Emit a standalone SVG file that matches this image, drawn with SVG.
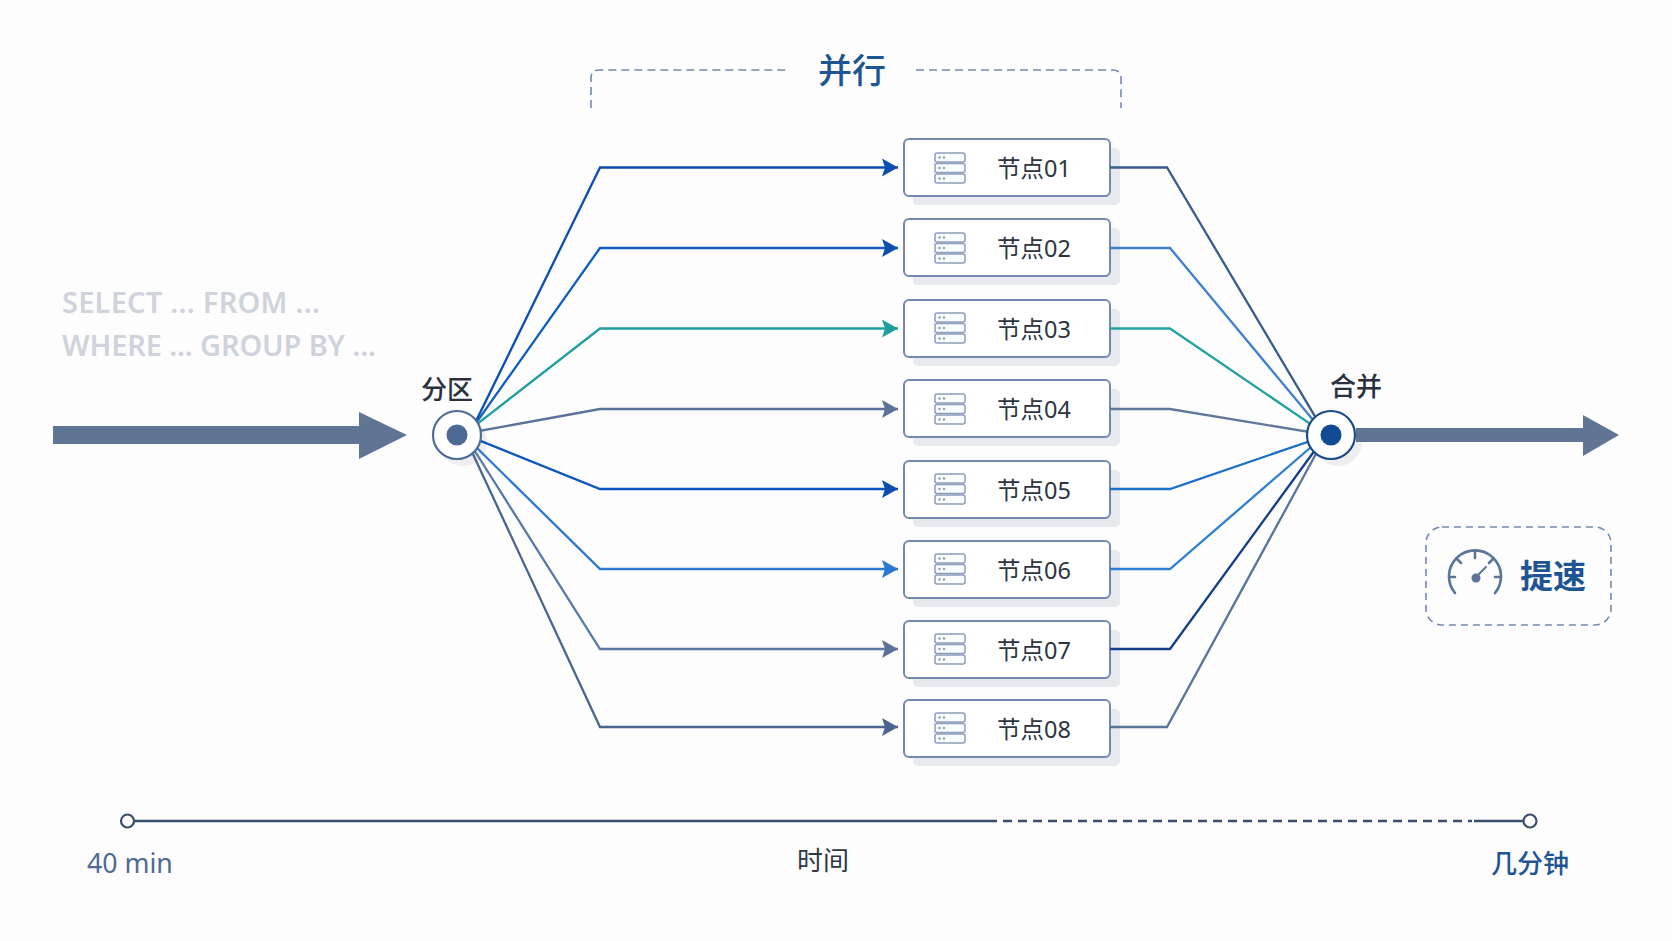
<svg xmlns="http://www.w3.org/2000/svg" width="1672" height="941" viewBox="0 0 1672 941">
<style>
text{font-family:"Noto Sans","Noto Sans CJK SC",sans-serif}
.cn{font-family:"Noto Sans CJK SC","Noto Sans",sans-serif}
.shadow{fill:#e6e9ee}
.box{fill:#fff;stroke:#7489ad;stroke-width:2}
.ic{fill:#fbfcfd;stroke:#8c9dba;stroke-width:1.5}
.dot{fill:#8c9dba}
.nl{font-size:23.5px;fill:#2c3440;text-anchor:start}
.ln{fill:none;stroke-width:2.3}
.sql{font-size:29px;fill:#cfd3db;font-weight:600}
.dash{fill:none;stroke:#7489ad;stroke-width:1.6;stroke-dasharray:8 5}
.hub{fill:#fff;stroke-width:2.2}
.hs{fill:#eeeef1}
.hl{font-size:26px;fill:#2a313c;font-weight:500;text-anchor:middle}
.fat{fill:#5f7593}
</style>
<defs>
<symbol id="srv" overflow="visible">
<rect class="ic" x="0" y="0" width="30" height="9" rx="2"/><circle class="dot" cx="4.5" cy="4.500" r="1.2"/><circle class="dot" cx="9" cy="4.500" r="1.2"/>
<rect class="ic" x="0" y="10.500" width="30" height="9" rx="2"/><circle class="dot" cx="4.5" cy="15" r="1.2"/><circle class="dot" cx="9" cy="15" r="1.2"/>
<rect class="ic" x="0" y="21" width="30" height="9" rx="2"/><circle class="dot" cx="4.5" cy="25.500" r="1.2"/><circle class="dot" cx="9" cy="25.500" r="1.2"/>
</symbol>
<marker id="a1" markerUnits="userSpaceOnUse" markerWidth="18" markerHeight="20" refX="16" refY="9" orient="auto"><path d="M0 0L16 9L0 18L3 9Z" fill="#0b4db0"/></marker>
<marker id="a3" markerUnits="userSpaceOnUse" markerWidth="18" markerHeight="20" refX="16" refY="9" orient="auto"><path d="M0 0L16 9L0 18L3 9Z" fill="#1f9f9f"/></marker>
<marker id="a4" markerUnits="userSpaceOnUse" markerWidth="18" markerHeight="20" refX="16" refY="9" orient="auto"><path d="M0 0L16 9L0 18L3 9Z" fill="#5b7299"/></marker>
<marker id="a6" markerUnits="userSpaceOnUse" markerWidth="18" markerHeight="20" refX="16" refY="9" orient="auto"><path d="M0 0L16 9L0 18L3 9Z" fill="#2a78d0"/></marker>
<marker id="a8" markerUnits="userSpaceOnUse" markerWidth="18" markerHeight="20" refX="16" refY="9" orient="auto"><path d="M0 0L16 9L0 18L3 9Z" fill="#4a6590"/></marker>
</defs>
<rect width="1672" height="941" fill="#fdfdfe"/>

<g id="sql">
<text class="sql" x="62" y="313" textLength="258" lengthAdjust="spacing">SELECT ... FROM ...</text>
<text class="sql" x="62" y="356" textLength="314" lengthAdjust="spacing">WHERE ... GROUP BY ...</text>
</g>

<g id="bracket">
<path class="dash" d="M591 108V78Q591 70 599 70H787M916 70H1113Q1121 70 1121 78V108"/>
<text class="cn" x="852" y="83" font-size="34" font-weight="500" fill="#1f5493" text-anchor="middle">并行</text>
</g>

<g id="n1"><rect class="shadow" x="913" y="148" width="207" height="57" rx="5"/><rect class="box" x="904" y="139" width="206" height="57" rx="5"/><use href="#srv" x="935" y="153"/><text class="nl" x="997" y="177">节点01</text></g>
<g id="n2"><rect class="shadow" x="913" y="228" width="207" height="57" rx="5"/><rect class="box" x="904" y="219" width="206" height="57" rx="5"/><use href="#srv" x="935" y="233"/><text class="nl" x="997" y="257">节点02</text></g>
<g id="n3"><rect class="shadow" x="913" y="309" width="207" height="57" rx="5"/><rect class="box" x="904" y="300" width="206" height="57" rx="5"/><use href="#srv" x="935" y="313"/><text class="nl" x="997" y="338">节点03</text></g>
<g id="n4"><rect class="shadow" x="913" y="389" width="207" height="57" rx="5"/><rect class="box" x="904" y="380" width="206" height="57" rx="5"/><use href="#srv" x="935" y="394"/><text class="nl" x="997" y="418">节点04</text></g>
<g id="n5"><rect class="shadow" x="913" y="470" width="207" height="57" rx="5"/><rect class="box" x="904" y="461" width="206" height="57" rx="5"/><use href="#srv" x="935" y="474"/><text class="nl" x="997" y="499">节点05</text></g>
<g id="n6"><rect class="shadow" x="913" y="550" width="207" height="57" rx="5"/><rect class="box" x="904" y="541" width="206" height="57" rx="5"/><use href="#srv" x="935" y="554"/><text class="nl" x="997" y="579">节点06</text></g>
<g id="n7"><rect class="shadow" x="913" y="630" width="207" height="57" rx="5"/><rect class="box" x="904" y="621" width="206" height="57" rx="5"/><use href="#srv" x="935" y="634"/><text class="nl" x="997" y="659">节点07</text></g>
<g id="n8"><rect class="shadow" x="913" y="709" width="207" height="57" rx="5"/><rect class="box" x="904" y="700" width="206" height="57" rx="5"/><use href="#srv" x="935" y="713"/><text class="nl" x="997" y="738">节点08</text></g>

<g id="hub-shadows">
<circle class="hs" cx="463" cy="442" r="24"/>
<circle class="hs" cx="1338" cy="442" r="24"/>
</g>

<g id="connectors">
<path class="ln" stroke="#0b4db0" marker-end="url(#a1)" d="M466 441.500L600 167.500H898"/>
<path class="ln" stroke="#0f5fc0" marker-end="url(#a1)" d="M465 438.600L600 248H898"/>
<path class="ln" stroke="#1f9f9f" marker-end="url(#a3)" d="M460 437.400L600 328.500H898"/>
<path class="ln" stroke="#5b7299" marker-end="url(#a4)" d="M457 435L600 409H898"/>
<path class="ln" stroke="#0b55c0" marker-end="url(#a1)" d="M465 434.600L600 489H898"/>
<path class="ln" stroke="#2a78d0" marker-end="url(#a6)" d="M462 433.300L600 569H898"/>
<path class="ln" stroke="#5a7aa5" marker-end="url(#a4)" d="M464 434L600 649H898"/>
<path class="ln" stroke="#4a6590" marker-end="url(#a8)" d="M465 437L600 727H898"/>
<path class="ln" stroke="#3b5b8f" d="M1110 167.500H1167L1326 434.800"/>
<path class="ln" stroke="#3f80cc" d="M1110 248H1170L1326 435.500"/>
<path class="ln" stroke="#24a3a0" d="M1110 328.500H1170L1326 434.600"/>
<path class="ln" stroke="#5f7798" d="M1110 409H1170L1330 435.400"/>
<path class="ln" stroke="#1b70c8" d="M1110 489H1170L1328 435"/>
<path class="ln" stroke="#2f80d0" d="M1110 569H1170L1325 435"/>
<path class="ln" stroke="#153f8a" d="M1110 649H1170L1326 435"/>
<path class="ln" stroke="#5a7598" d="M1110 727H1167L1326 435.500"/>
</g>

<g id="partition">
<circle class="hub" cx="457" cy="435" r="24" stroke="#4f6c96"/>
<circle cx="457" cy="435" r="10.500" fill="#4d6a94"/>
<text class="hl cn" x="447" y="399">分区</text>
</g>
<g id="merge">
<circle class="hub" cx="1331" cy="435" r="24" stroke="#1c4a8a"/>
<circle cx="1331" cy="435" r="10.500" fill="#124a94"/>
<text class="hl cn" x="1356" y="396">合并</text>
</g>

<g id="input-arrow"><path class="fat" d="M53 426H359V412L407 435L359 459V444H53Z"/></g>
<g id="output-arrow"><path class="fat" d="M1356 428H1583V415L1619 435L1583 456V442H1356Z"/></g>

<g id="speedup">
<rect x="1426" y="527" width="185" height="98" rx="16" fill="none" stroke="#7489ad" stroke-width="1.6" stroke-dasharray="7 5"/>
<g fill="none" stroke="#5a7598" stroke-width="2.600" stroke-linecap="round">
<path d="M1455 593A26 26 0 1 1 1495 593"/>
<path d="M1475 551V558M1456.500 558.500L1461 563M1493.500 558.500L1489 563M1449 577H1455M1501 577H1495"/>
<path d="M1475 578L1486 567" stroke-width="2"/>
</g>
<circle cx="1476" cy="578" r="4.500" fill="#5a7598"/>
<text class="cn" x="1553" y="588" font-size="33" font-weight="700" fill="#1f5493" text-anchor="middle">提速</text>
</g>

<g id="timeline">
<path d="M134 821H997" fill="none" stroke="#3a4d6b" stroke-width="2.400"/>
<path d="M997 821H1472" fill="none" stroke="#3a4d6b" stroke-width="2.400" stroke-dasharray="9 6" stroke-dashoffset="9"/>
<path d="M1474 821H1523" fill="none" stroke="#3a4d6b" stroke-width="2.400"/>
<circle cx="127.500" cy="821" r="6.500" fill="#fff" stroke="#3a4d6b" stroke-width="2.200"/>
<circle cx="1530" cy="821" r="6.500" fill="#fff" stroke="#3a4d6b" stroke-width="2.200"/>
<text x="87" y="873" font-size="26.700" fill="#4f6a93">40 min</text>
<text class="cn" x="823" y="870" font-size="26" fill="#2f3845" text-anchor="middle">时间</text>
<text class="cn" x="1530" y="873" font-size="26" font-weight="500" fill="#1f5493" text-anchor="middle">几分钟</text>
</g>
</svg>
